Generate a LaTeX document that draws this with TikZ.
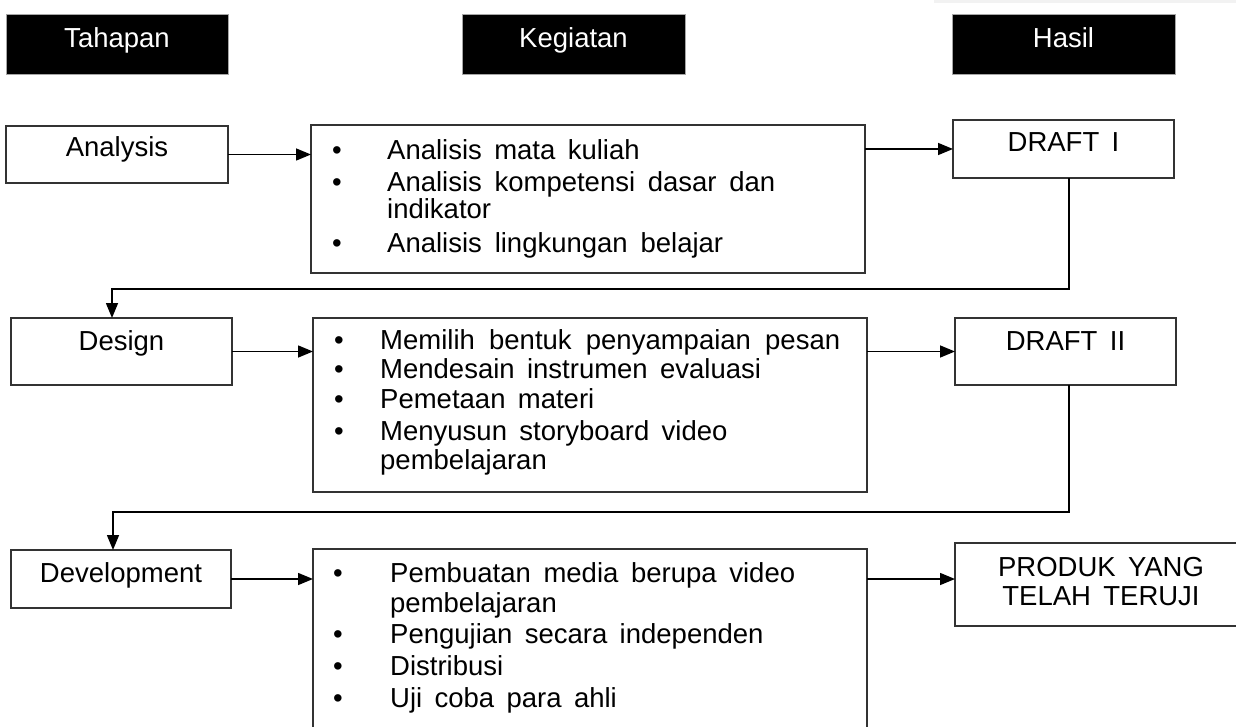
\documentclass[tikz,border=0pt]{standalone}
\usepackage{fontspec}
\setmainfont{Liberation Sans}
\usetikzlibrary{arrows.meta,calc}
\newcommand{\txtfont}{\fontsize{27.5}{30}\selectfont\spaceskip 0.45em plus 0.1em\relax}
\tikzset{
  box/.style={draw=black!80, line width=1.6pt, fill=white, anchor=north west, inner sep=0pt, outer sep=0pt},
  hdr/.style={draw=black!35, line width=0.8pt, fill=black, anchor=north west, inner sep=0pt, outer sep=0pt},
  txt/.style={inner sep=0pt, font=\txtfont, text=black},
  htxt/.style={txt, text=white},
  conn/.style={line width=1.5pt, draw=black, -{Triangle[length=15pt,width=12pt]}}
}
\newcommand{\bitem}[5]{%
  \node[txt,anchor=base] (#1b) at (#2,#4) {\textbullet};
  \node[txt,anchor=base west] (#1) at (#3,#4) {#5};}
\newcommand{\contline}[4]{%
  \node[txt,anchor=base west] (#1) at (#2,#3) {#4};}
\newcommand{\jst}[2]{\makebox[#1pt][s]{#2}}
\begin{document}
\begin{tikzpicture}[x=1pt,y=-1pt]
\useasboundingbox (0,0) rectangle (1236,727);
\clip (0,0) rectangle (1236,727);
\fill[black!5] (934,0) rectangle (1236,3);

% headers
\node[hdr, minimum width=222pt, minimum height=60pt] (hT) at (6,14) {};
\node[hdr, minimum width=223pt, minimum height=60pt] (hK) at (462,14) {};
\node[hdr, minimum width=223pt, minimum height=60pt] (hH) at (952,14) {};
\node[htxt,anchor=base] (tT) at (117,48) {Tahapan};
\node[htxt,anchor=base] (tK) at (573.5,48) {Kegiatan};
\node[htxt,anchor=base] (tH) at (1063.5,48) {Hasil};

% row 1
\node[box, minimum width=222pt, minimum height=57pt] (A) at (6,126) {};
\node[txt,anchor=base] (tA) at (117,157) {Analysis};
\node[box, minimum width=554pt, minimum height=148pt] (K1) at (311,125) {};
\node[box, minimum width=221pt, minimum height=58pt] (D1) at (953,120) {};
\node[txt,anchor=base] (tD1) at (1063.5,152) {DRAFT I};
\bitem{k1a}{337}{387}{160}{\jst{249}{Analisis mata kuliah}}
\bitem{k1c}{337}{387}{192}{\jst{388}{Analisis kompetensi dasar dan}}
\contline{k1d}{387}{219}{indikator}
\bitem{k1e}{337}{387}{253}{\jst{336}{Analisis lingkungan belajar}}

% row 2
\node[box, minimum width=221pt, minimum height=67pt] (Ds) at (11,318) {};
\node[txt,anchor=base] (tDs) at (121.5,350) {Design};
\node[box, minimum width=554pt, minimum height=174pt] (K2) at (313,318) {};
\node[box, minimum width=221pt, minimum height=67pt] (D2) at (955,318) {};
\node[txt,anchor=base] (tD2) at (1065.5,350) {DRAFT II};
\bitem{k2a}{339}{380}{349}{\jst{460}{Memilih bentuk penyampaian pesan}}
\bitem{k2b}{339}{380}{378}{Mendesain instrumen evaluasi}
\bitem{k2c}{339}{380}{408}{Pemetaan\ materi}
\bitem{k2d}{339}{380}{440}{Menyusun storyboard video}
\contline{k2e}{380}{469}{pembelajaran}

% row 3
\node[box, minimum width=220pt, minimum height=58pt] (Dv) at (11,550) {};
\node[txt,anchor=base] (tDv) at (121,582) {Development};
\node[box, minimum width=554pt, minimum height=220pt] (K3) at (313,549) {};
\node[box, minimum width=292pt, minimum height=83pt] (P) at (955,543) {};
\node[txt,anchor=base] (tP1) at (1101,576) {PRODUK YANG};
\node[txt,anchor=base] (tP2) at (1101,605) {TELAH TERUJI};
\bitem{k3a}{338}{390}{582}{\jst{405}{Pembuatan media berupa video}}
\contline{k3b}{390}{612}{pembelajaran}
\bitem{k3c}{338}{390}{643}{Pengujian secara independen}
\bitem{k3d}{338}{390}{675}{Distribusi}
\bitem{k3e}{338}{390}{707}{Uji coba para ahli}

% connectors
\coordinate (c1a) at (1069,289);
\coordinate (c1b) at (112,289);
\coordinate (c2a) at (1069,512);
\coordinate (c2b) at (113,512);
\coordinate (c3) at (955,579);

\draw[conn] (A.east) -- (A.east -| K1.west);
\draw[conn] (D1.west -| K1.east) -- (D1.west);
\draw[conn] (c1a |- D1.south) -- (c1a) -- (c1b) -- (c1b |- Ds.north);
\draw[conn] (Ds.east) -- (Ds.east -| K2.west);
\draw[conn] (D2.west -| K2.east) -- (D2.west);
\draw[conn] (c2a |- D2.south) -- (c2a) -- (c2b) -- (c2b |- Dv.north);
\draw[conn] (Dv.east) -- (Dv.east -| K3.west);
\draw[conn] (c3 -| K3.east) -- (c3 -| P.west);
\end{tikzpicture}
\end{document}
